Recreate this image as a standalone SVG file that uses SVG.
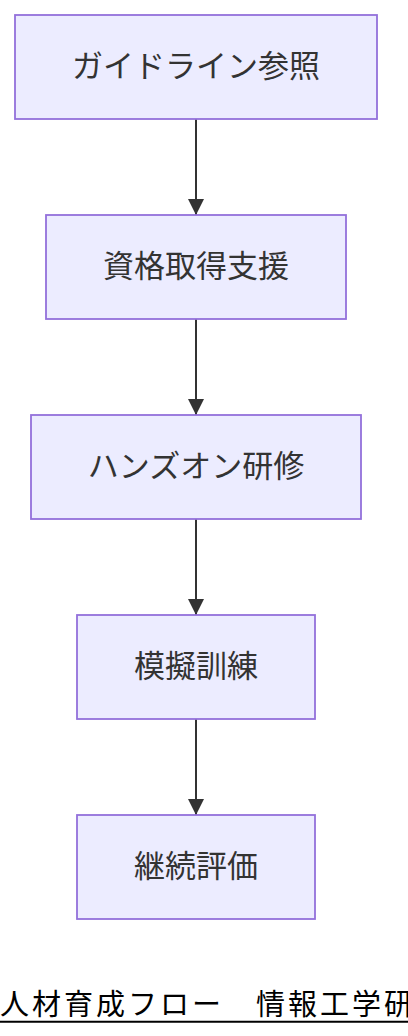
<svg xmlns="http://www.w3.org/2000/svg" width="408" height="1036" viewBox="0 0 408 1036">
<style>
.node rect{fill:#ECECFF;stroke:#9370DB;stroke-width:1.8}
.node text{font-family:"Noto Sans CJK JP","Noto Sans",sans-serif;font-size:31px;fill:#333;text-anchor:middle}
.edge{stroke:#333;stroke-width:2;fill:none}
.title{font-family:"Noto Sans CJK JP","Noto Sans",sans-serif;font-size:29px;letter-spacing:3px;fill:#000}
</style>
<defs>
<marker id="arrow" markerUnits="userSpaceOnUse" markerWidth="16" markerHeight="16" refX="16" refY="8" orient="auto" viewBox="0 0 16 16">
<path d="M0,0 L16,8 L0,16 z" fill="#333"/>
</marker>
</defs>
<rect width="408" height="1036" fill="#fff"/>
<g id="edges">
<line class="edge" x1="196" y1="119" x2="196" y2="215" marker-end="url(#arrow)"/>
<line class="edge" x1="196" y1="319" x2="196" y2="415" marker-end="url(#arrow)"/>
<line class="edge" x1="196" y1="519" x2="196" y2="615" marker-end="url(#arrow)"/>
<line class="edge" x1="196" y1="719" x2="196" y2="815" marker-end="url(#arrow)"/>
</g>
<g id="n1" class="node"><rect x="15" y="15" width="362" height="104"/><text x="196" y="77">ガイドライン参照</text></g>
<g id="n2" class="node"><rect x="46" y="215" width="300" height="104"/><text x="196" y="277">資格取得支援</text></g>
<g id="n3" class="node"><rect x="31" y="415" width="330" height="104"/><text x="196" y="477">ハンズオン研修</text></g>
<g id="n4" class="node"><rect x="77" y="615" width="238" height="104"/><text x="196" y="677">模擬訓練</text></g>
<g id="n5" class="node"><rect x="77" y="815" width="238" height="104"/><text x="196" y="877">継続評価</text></g>
<g id="title">
<text class="title" x="0" y="1015">人材育成フロー　情報工学研</text>
<line x1="0" y1="1021.7" x2="408" y2="1021.7" stroke="#000" stroke-width="2"/>
</g>
</svg>
